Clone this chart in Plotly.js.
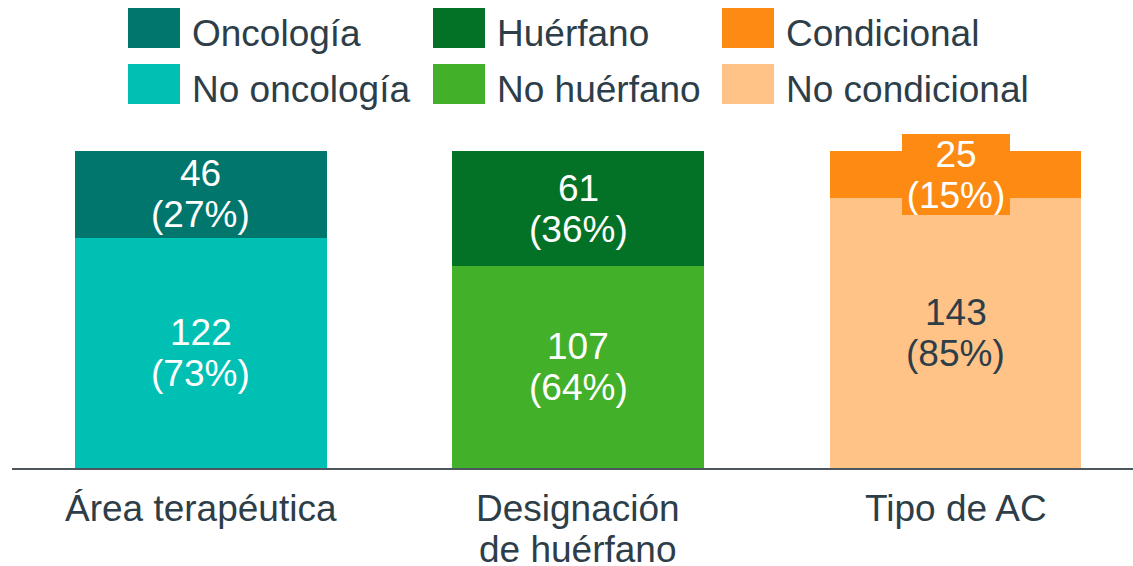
<!DOCTYPE html>
<html>
<head>
<meta charset="utf-8">
<script src="https://cdn.plot.ly/plotly-3.0.1.min.js"></script>
<style>html,body{margin:0;padding:0;background:#fff;}#chart{width:1133px;height:566px;}</style>
</head>
<body>
<div id="chart"></div>
<script>
const categories = ["Área terapéutica", "Designación de huérfano", "Tipo de AC"];
const categoryLines = [["Área terapéutica"], ["Designación", "de huérfano"], ["Tipo de AC"]];
const topNames = ["Oncología", "Huérfano", "Condicional"];
const bottomNames = ["No oncología", "No huérfano", "No condicional"];
const topValues = [46, 61, 25];
const bottomValues = [122, 107, 143];
const topPct = [27, 36, 15];
const bottomPct = [73, 64, 85];
const topColors = ["#00766c", "#037226", "#fd8b13"];
const bottomColors = ["#00bfb3", "#43b02a", "#ffc388"];
const topTextColors = ["#ffffff", "#ffffff", "#ffffff"];
const bottomTextColors = ["#ffffff", "#ffffff", "#2d3e48"];
const labelBoxed = [false, false, true];

const W = 1133, H = 566;
const M = {l: 12, r: 0, t: 151, b: 98};
const pw = W - M.l - M.r, ph = H - M.t - M.b;
const px2x = p => (p - M.l) / pw;
const py2y = p => (H - M.b - p) / ph;

const traces = [];
for (let i = 0; i < categories.length; i++) {
  traces.push({type: 'bar', x: [categories[i]], y: [bottomValues[i]], name: bottomNames[i],
    marker: {color: bottomColors[i]}, hoverinfo: 'none', showlegend: false});
  traces.push({type: 'bar', x: [categories[i]], y: [topValues[i]], name: topNames[i],
    marker: {color: topColors[i]}, hoverinfo: 'none', showlegend: false});
}

const txtFont = (c) => ({family: 'Liberation Sans, Arial, sans-serif', size: 37, color: c});
const annotations = [];
const half = 20.5;
for (let i = 0; i < categories.length; i++) {
  const yb = bottomValues[i] / 2;
  const yt = bottomValues[i] + topValues[i] / 2;
  annotations.push({x: categories[i], y: yb, xref: 'x', yref: 'y', text: String(bottomValues[i]),
    showarrow: false, yshift: half, font: txtFont(bottomTextColors[i])});
  annotations.push({x: categories[i], y: yb, xref: 'x', yref: 'y', text: '(' + bottomPct[i] + '%)',
    showarrow: false, yshift: -half, font: txtFont(bottomTextColors[i])});
  const boxed = labelBoxed[i] ? {bgcolor: topColors[i], width: 108, height: 40, borderpad: 0, borderwidth: 0} : {};
  annotations.push(Object.assign({x: categories[i], y: yt, xref: 'x', yref: 'y', text: String(topValues[i]),
    showarrow: false, yshift: half, font: txtFont(topTextColors[i])}, boxed));
  annotations.push(Object.assign({x: categories[i], y: yt, xref: 'x', yref: 'y', text: '(' + topPct[i] + '%)',
    showarrow: false, yshift: -half, font: txtFont(topTextColors[i])}, boxed));
  // category labels, one annotation per line
  categoryLines[i].forEach((line, k) => {
    annotations.push({x: categories[i], y: 0, xref: 'x', yref: 'paper', text: line,
      showarrow: false, yanchor: 'middle', yshift: -(40 + 41 * k), borderpad: 0,
      font: txtFont('#2d3e48')});
  });
}

// manual legend: rows = [topNames, bottomNames]
const legendRows = [topNames, bottomNames];
const legendColors = [topColors, bottomColors];
const colSwatchX = [128, 433, 722];
const rowTopY = [8, 64];
const shapes = [];
for (let r = 0; r < 2; r++) {
  for (let c = 0; c < 3; c++) {
    shapes.push({type: 'rect', xref: 'paper', yref: 'paper',
      x0: px2x(colSwatchX[c]), x1: px2x(colSwatchX[c] + 52),
      y0: py2y(rowTopY[r] + 40), y1: py2y(rowTopY[r]),
      fillcolor: legendColors[r][c], line: {width: 0}});
    annotations.push({xref: 'paper', yref: 'paper', x: px2x(colSwatchX[c] + 62), y: py2y(rowTopY[r] + 25),
      xanchor: 'left', yanchor: 'middle', text: legendRows[r][c], showarrow: false,
      font: txtFont('#2d3e48')});
  }
}

const maxTotal = Math.max(...topValues.map((v, i) => v + bottomValues[i]));

const layout = {
  width: W, height: H,
  margin: M,
  paper_bgcolor: '#ffffff', plot_bgcolor: '#ffffff',
  barmode: 'stack', bargap: 0.333,
  showlegend: false,
  font: {family: 'Liberation Sans, Arial, sans-serif', color: '#2d3e48'},
  xaxis: {type: 'category', range: [-0.5, 2.47], showline: true, linecolor: '#4d565c', linewidth: 2,
    ticks: '', showgrid: false, zeroline: false, fixedrange: true, showticklabels: false},
  yaxis: {range: [0, maxTotal], visible: false, showgrid: false, zeroline: false, fixedrange: true},
  annotations: annotations,
  shapes: shapes
};

Plotly.newPlot('chart', traces, layout, {displayModeBar: false, staticPlot: true});
</script>
</body>
</html>
